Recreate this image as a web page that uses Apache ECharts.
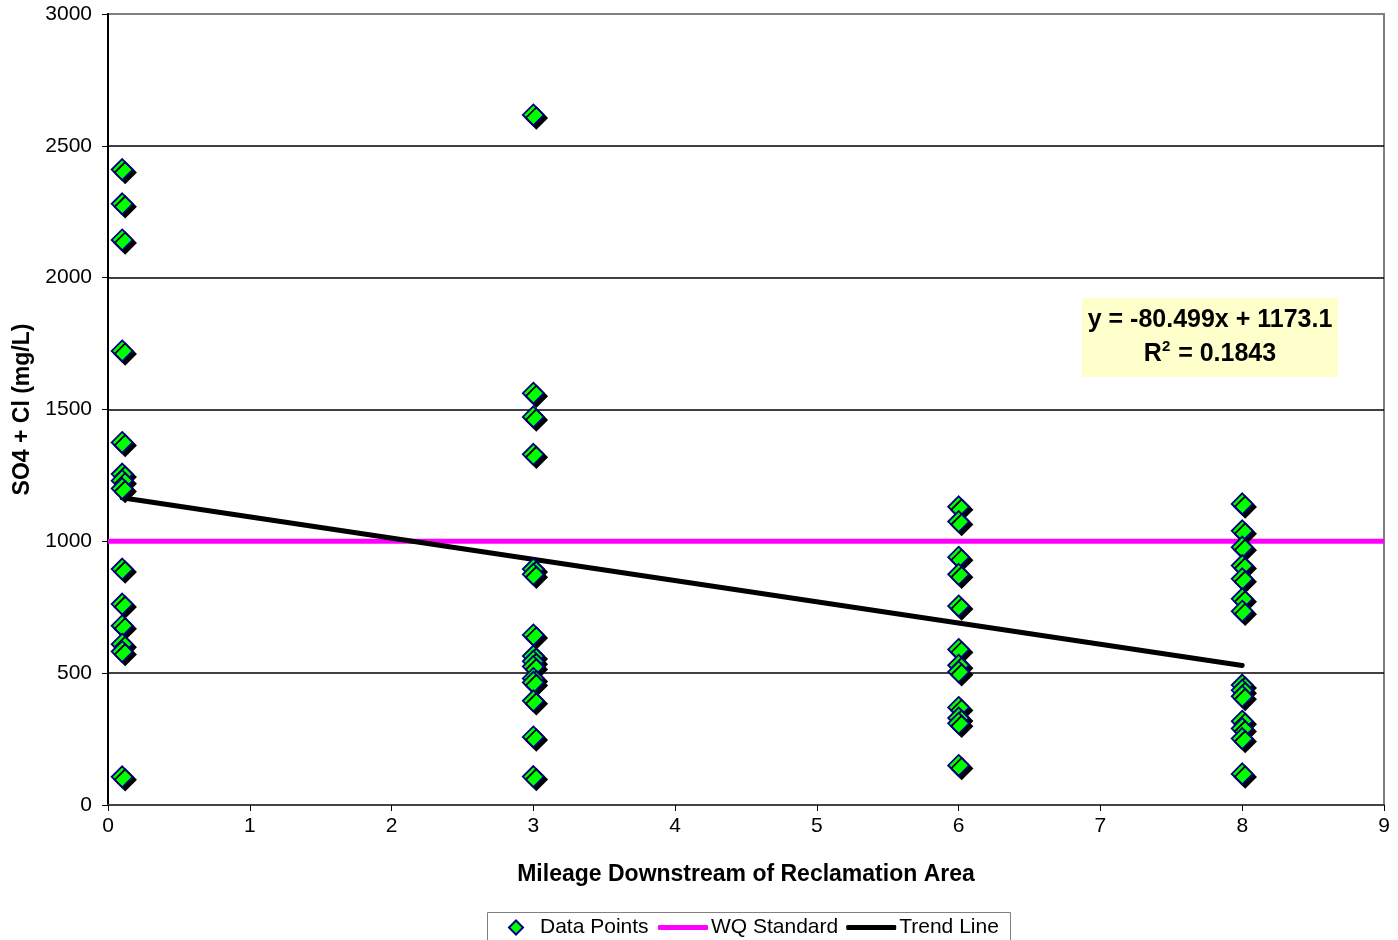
<!DOCTYPE html>
<html>
<head>
<meta charset="utf-8">
<script src="https://cdn.jsdelivr.net/npm/echarts@6/dist/echarts.min.js"></script>
<style>html,body{margin:0;padding:0;background:#fff}#c{width:1398px;height:940px}</style>
</head>
<body>
<div id="c"></div>
<script>
// Sites (miles downstream) and measured SO4 + Cl values (mg/L)
const siteMiles = [0.1, 3, 6, 8];
const valuesSite1 = [2410, 2280, 2143, 1722, 1375, 1255, 1230, 1200, 895, 762, 680, 610, 582, 107];
const valuesSite2 = [2617, 1562, 1472, 1330, 895, 875, 645, 565, 545, 525, 480, 465, 395, 258, 108];
const valuesSite3 = [1131, 1075, 940, 875, 755, 590, 530, 505, 370, 330, 310, 150];
const valuesSite4 = [1142, 1040, 978, 908, 858, 782, 735, 455, 435, 412, 318, 290, 252, 118];
const wqStandard = 1000;
const wqX = [0, 9];
const trendX = [0.1, 8];
const trendY = [1165.1, 529.1];
const xTicks = [0, 9, 1];
const yTicks = [0, 3000, 500];
const equationText = 'y = -80.499x + 1173.1';
const r2Text = '0.1843';

const allSites = [valuesSite1, valuesSite2, valuesSite3, valuesSite4];
const scatterData = [];
allSites.forEach((vals, i) => vals.forEach(v => scatterData.push([siteMiles[i], v])));

const chart = echarts.init(document.getElementById('c'), null, {renderer: 'canvas'});
const font = "'Liberation Sans', Arial, sans-serif";
const noShadow = {shadowBlur: 0, shadowOffsetX: 0, shadowOffsetY: 0, shadowColor: 'transparent'};
chart.setOption({
  animation: false,
  backgroundColor: '#fff',
  textStyle: {fontFamily: font},
  grid: {left: 108, right: 14, top: 14, bottom: 135, show: true, borderColor: '#808080', borderWidth: 2, backgroundColor: '#fff'},
  xAxis: {
    type: 'value', min: xTicks[0], max: xTicks[1], interval: xTicks[2],
    name: 'Mileage Downstream of Reclamation Area', nameLocation: 'middle', nameGap: 58,
    nameTextStyle: {fontSize: 23, fontWeight: 'bold', color: '#000', fontFamily: font},
    axisLine: {show: true, onZero: false, lineStyle: {color: '#444', width: 2}},
    axisTick: {show: true, inside: false, length: 6, lineStyle: {color: '#000'}},
    axisLabel: {fontSize: 21, color: '#000', margin: 11, fontFamily: font},
    splitLine: {show: false}
  },
  yAxis: {
    type: 'value', min: yTicks[0], max: yTicks[1], interval: yTicks[2],
    name: 'SO4 + Cl (mg/L)', nameLocation: 'middle', nameGap: 74,
    nameTextStyle: {fontSize: 23, fontWeight: 'bold', color: '#000', fontFamily: font},
    axisLine: {show: true, lineStyle: {color: '#000', width: 2}},
    axisTick: {show: true, inside: false, length: 6, lineStyle: {color: '#000'}},
    axisLabel: {fontSize: 21, color: '#000', margin: 16, fontFamily: font, formatter: v => String(v)},
    splitLine: {show: true, lineStyle: {color: ['#000', '#000', '#000', '#000', '#000', '#000', '#808080'], width: 1.5}}
  },
  legend: [
    {
      top: 917, left: 508,
      padding: 0,
      itemWidth: 14, itemHeight: 14,
      textStyle: {fontSize: 21, color: '#000', fontFamily: font, padding: [0, 0, 0, 12]},
      data: [{name: 'Data Points', icon: 'diamond', itemStyle: Object.assign({borderWidth: 2}, noShadow)}]
    },
    {
      top: 917, left: 658,
      padding: 0,
      itemGap: 8, itemWidth: 50, itemHeight: 5,
      textStyle: {fontSize: 21, color: '#000', fontFamily: font, padding: [0, 0, 0, -2]},
      data: [
        {name: 'WQ Standard', icon: 'roundRect'},
        {name: 'Trend Line', icon: 'roundRect'}
      ]
    }
  ],
  series: [
    {
      name: 'WQ Standard', type: 'line', symbol: 'none', z: 3,
      data: wqX.map(x => [x, wqStandard]),
      lineStyle: {color: '#FF00FF', width: 5}, itemStyle: {color: '#FF00FF'}
    },
    {
      name: 'Trend Line', type: 'line', symbol: 'none', z: 4,
      data: trendX.map((x, i) => [x, trendY[i]]),
      lineStyle: {color: '#000', width: 5, cap: 'round'}, itemStyle: {color: '#000'}
    },
    {
      name: 'Data Points', type: 'scatter', symbol: 'diamond', symbolSize: 21, z: 5,
      data: scatterData,
      itemStyle: {color: '#00FF00', borderColor: '#000080', borderWidth: 1.8, opacity: 1,
        shadowColor: '#000', shadowBlur: 0, shadowOffsetX: 3, shadowOffsetY: 3}
    }
  ],
  graphic: [
    {
      type: 'rect', left: 485, top: 910, z: 1, silent: true,
      shape: {width: 523, height: 40},
      style: {fill: 'none', stroke: '#808080', lineWidth: 1}
    },
    {
      type: 'rect', left: 1082, top: 298, z: 10,
      shape: {width: 256, height: 79},
      style: {fill: '#FFFFCC'}
    },
    {
      type: 'text', z: 11, x: 1210, y: 320,
      style: {text: equationText, textAlign: 'center', textVerticalAlign: 'middle', fill: '#000',
        font: "bold 25px 'Liberation Sans', Arial, sans-serif"}
    },
    {
      type: 'text', z: 11, x: 1210, y: 354,
      style: {
        text: '{r|R}{s|2}{r| = ' + r2Text + '}',
        textAlign: 'center', textVerticalAlign: 'middle',
        rich: {
          r: {fontSize: 25, fontWeight: 'bold', fill: '#000', fontFamily: font, lineHeight: 30},
          s: {fontSize: 15, fontWeight: 'bold', fill: '#000', fontFamily: font, lineHeight: 30, padding: [0, 1, 14, 0]}
        }
      }
    }
  ]
});
</script>
</body>
</html>
